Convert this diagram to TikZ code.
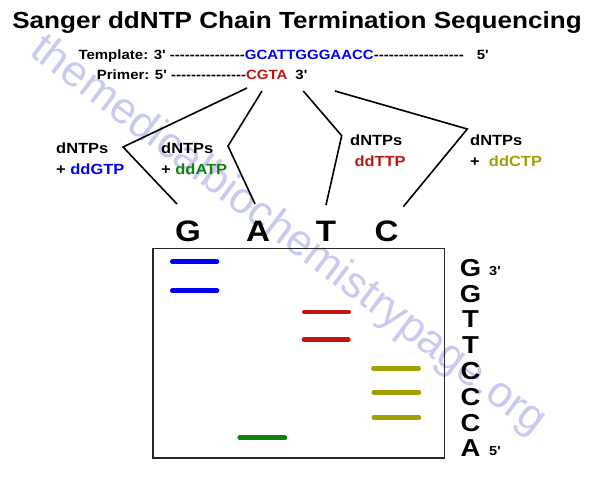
\documentclass[tikz,border=0pt]{standalone}
\usepackage{fontspec}
\newfontfamily\af{Liberation Sans}[FakeStretch=1.12]
\newfontfamily\wmfont{Liberation Sans}
\definecolor{tblue}{RGB}{0,0,245}
\definecolor{tred}{RGB}{190,20,20}
\definecolor{tgreen}{RGB}{15,130,15}
\definecolor{tolive}{RGB}{160,160,0}
\definecolor{wmcol}{RGB}{202,202,240}
\tikzset{
  wm/.style={inner sep=0pt, text=wmcol, rotate=-37, font=\wmfont\fontsize{44}{50}\selectfont},
  ttl/.style={inner sep=0pt, anchor=base, font=\af\bfseries\fontsize{23.3}{27}\selectfont},
  seq/.style={inner sep=0pt, anchor=base west, font=\af\bfseries\fontsize{13.4}{16}\selectfont},
  lbl/.style={inner sep=0pt, anchor=base west, font=\af\bfseries\fontsize{14.7}{17}\selectfont},
  colletter/.style={inner sep=0pt, anchor=base, font=\af\bfseries\fontsize{29.6}{34}\selectfont},
  ladder/.style={inner sep=0pt, anchor=base, font=\af\bfseries\fontsize{24.5}{28}\selectfont},
  endlbl/.style={inner sep=0pt, anchor=base west, font=\af\bfseries\fontsize{13}{15}\selectfont},
  conn/.style={line width=1.6pt, black},
  gelbox/.style={line width=1.8pt, draw=black!85},
  band/.style={line width=4.6pt, line cap=round},
}
\begin{document}
\begin{tikzpicture}[x=1pt,y=-1pt]
\path[use as bounding box] (0,0) rectangle (592,480);
% watermark
\node[wm] (wmark) at (288,236) {themedicalbiochemistrypage.org};
% title
\node[ttl] (title) at (297,28) {Sanger ddNTP Chain Termination Sequencing};
% template and primer
\node[seq] (template) at (78.3,59) {Template: 3' ---------------\textcolor{tblue}{GCATTGGGAACC}------------------\hspace{13pt}5'};
\node[seq] (primer) at (96.7,79.3) {Primer: 5' ---------------\textcolor{tred}{CGTA}\hspace{8pt}3'};
% connector points
\coordinate (g0) at (247,88);
\coordinate (g1) at (123,147);
\coordinate (g2) at (177,204);
\coordinate (a0) at (262,91);
\coordinate (a1) at (228,146);
\coordinate (a2) at (255,204);
\coordinate (t0) at (303.3,91);
\coordinate (t1) at (341.7,135.7);
\coordinate (t2) at (326,205);
\coordinate (c0) at (335,91);
\coordinate (c1) at (467.3,129);
\coordinate (c2) at (403.3,206.7);
\draw[conn] (g0) -- (g1) -- (g2);
\draw[conn] (a0) -- (a1) -- (a2);
\draw[conn] (t0) -- (t1) -- (t2);
\draw[conn] (c0) -- (c1) -- (c2);
% labels
\node[lbl] (l1a) at (56,153) {dNTPs};
\node[lbl] (l1b) at (56,174.5) {+ \textcolor{tblue}{ddGTP}};
\node[lbl] (l2a) at (161,153) {dNTPs};
\node[lbl] (l2b) at (161,174.5) {+ \textcolor{tgreen}{ddATP}};
\node[lbl] (l3a) at (350,145) {dNTPs};
\node[lbl] (l3b) at (354.3,166.7) {\textcolor{tred}{ddTTP}};
\node[lbl] (l4a) at (470,145) {dNTPs};
\node[lbl] (l4b) at (470,166.7) {+\ \ \textcolor{tolive}{ddCTP}};
% lane letters
\node[colletter] (colG) at (188,241.5) {G};
\node[colletter] (colA) at (258,241.5) {A};
\node[colletter] (colT) at (326,241.5) {T};
\node[colletter] (colC) at (386.5,241.5) {C};
% gel
\draw[gelbox] (153,248.5) rectangle (444.5,458);
\draw[band, tblue] (172.3,261.7) -- (217,261.7);
\draw[band, tblue] (172.3,290.7) -- (217,290.7);
\draw[band, tred] (304.3,312) -- (348.7,312);
\draw[band, tred] (304,339.7) -- (348.4,339.7);
\draw[band, tolive] (373.3,368.3) -- (418.7,368.3);
\draw[band, tolive] (373.8,392.7) -- (418.9,392.7);
\draw[band, tolive] (373.8,417.3) -- (418.9,417.3);
\draw[band, tgreen] (239.6,437.7) -- (285,437.7);
% sequence ladder
\node[ladder] (s1) at (470.5,276.3) {G};
\node[ladder] (s2) at (470.5,302.1) {G};
\node[ladder] (s3) at (470.5,327.9) {T};
\node[ladder] (s4) at (470.5,353.7) {T};
\node[ladder] (s5) at (470.5,379.5) {C};
\node[ladder] (s6) at (470.5,405.3) {C};
\node[ladder] (s7) at (470.5,431.1) {C};
\node[ladder] (s8) at (470.5,456.9) {A};
\node[endlbl] (e3) at (489,275.5) {3'};
\node[endlbl] (e5) at (489,455.5) {5'};
\end{tikzpicture}
\end{document}
